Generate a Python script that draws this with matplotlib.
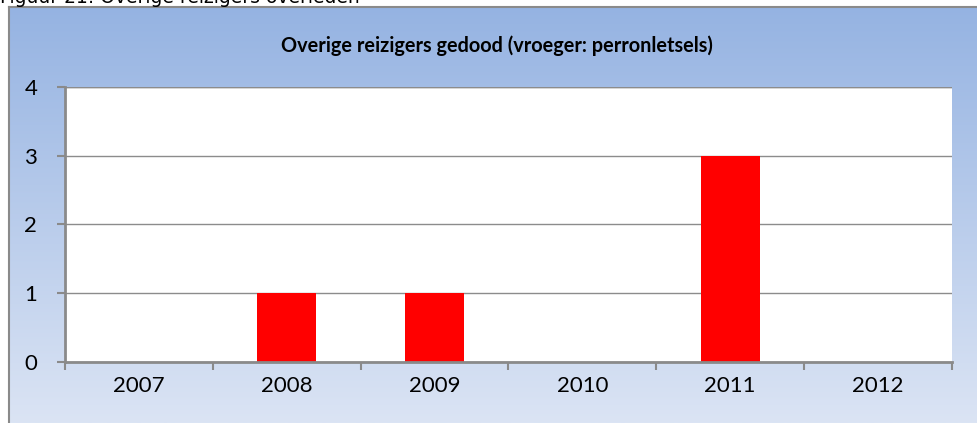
import numpy as np
import matplotlib.pyplot as plt
from matplotlib.colors import LinearSegmentedColormap

years = ["2007", "2008", "2009", "2010", "2011", "2012"]
deaths = [0, 1, 1, 0, 3, 0]
y_ticks = [0, 1, 2, 3, 4]

W, H = 977, 423
fig = plt.figure(figsize=(W / 100, H / 100), dpi=100)
fig.patch.set_facecolor("white")

# gradient chart frame (blue at top, pale at bottom)
bg = fig.add_axes([9 / W, 0, 1 - 9 / W, 1 - 7 / H])
grad = LinearSegmentedColormap.from_list("bg", ["#95b3e2", "#dbe4f4"])
bg.imshow(np.linspace(0, 1, 256).reshape(-1, 1), cmap=grad, aspect="auto",
          extent=[0, 1, 0, 1], origin="upper")
bg.set_xlim(0, 1)
bg.set_ylim(0, 1)
bg.set_xticks([])
bg.set_yticks([])
for side in ["right", "bottom"]:
    bg.spines[side].set_visible(False)
for side in ["left", "top"]:
    bg.spines[side].set_color("#8a8a8a")
    bg.spines[side].set_linewidth(1.5)

# caption cut off at the top of the image (as in the source page)
fig.text(0, 1 - 3 / H, "Figuur 21: Overige reizigers overleden", fontsize=13.5,
         family="DejaVu Sans", va="baseline", ha="left")

ax = fig.add_axes([65 / W, 61 / H, 887 / W, 275 / H])
ax.set_facecolor("white")
x = np.arange(len(years))
ax.bar(x, deaths, width=0.4, color="#ff0000", zorder=3)

ax.set_xlim(-0.5, len(years) - 0.5)
ax.set_ylim(0, 4)
ax.set_yticks(y_ticks)
ax.set_yticklabels([str(t) for t in y_ticks], family="Lato", fontsize=16)
ax.set_xticks(x)
ax.set_xticklabels(years, family="Lato", fontsize=16)
ax.set_xticks(np.arange(-0.5, len(years)), minor=True)
ax.tick_params(axis="x", which="major", length=0, pad=10)
ax.tick_params(axis="x", which="minor", length=6, width=1.5, color="#8a8a8a",
               direction="out")
ax.tick_params(axis="y", length=6, width=1.5, color="#8a8a8a", pad=14)

ax.grid(axis="y", color="#8c8c8c", linewidth=1, zorder=0)
for side in ["top", "right"]:
    ax.spines[side].set_visible(False)
for side in ["left", "bottom"]:
    ax.spines[side].set_color("#8a8a8a")
    ax.spines[side].set_linewidth(2)
    ax.spines[side].set_zorder(4)
ax.axhline(4, color="#8c8c8c", linewidth=1, zorder=2)

fig.text(497 / W, 1 - 46 / H, "Overige reizigers gedood (vroeger: perronletsels)",
         family="Lato", fontweight="bold", fontsize=14.3, ha="center", va="center")

fig.savefig("out.png", dpi=100)
